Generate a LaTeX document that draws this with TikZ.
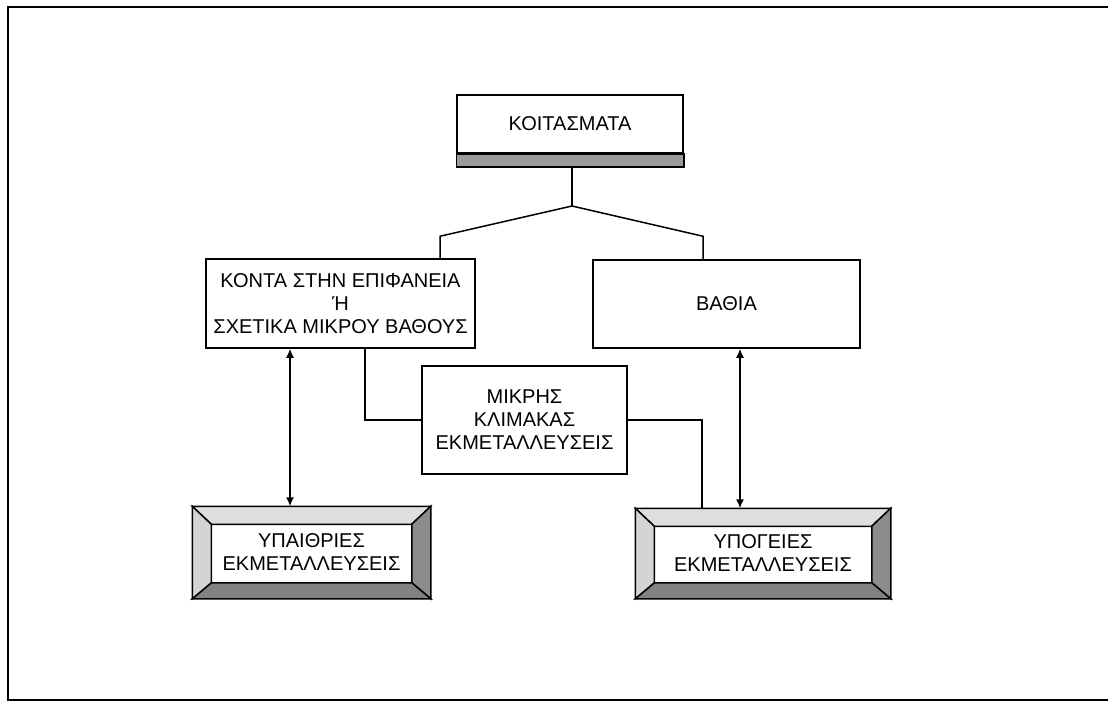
\documentclass[tikz,border=0pt]{standalone}
\usepackage{fontspec}
\setmainfont{Liberation Sans}
\usetikzlibrary{shapes,arrows.meta,calc}

\definecolor{bandgray}{HTML}{9A9A9A}
\definecolor{bevlight}{HTML}{DEDEDE}
\definecolor{bevside}{HTML}{D4D4D4}
\definecolor{bevdark}{HTML}{8C8C8C}
\definecolor{bevlow}{HTML}{828282}

\tikzset{
  box/.style={draw, line width=0.75pt, fill=white, inner sep=0pt, align=center,
    font=\fontsize{10}{11.5}\selectfont},
  link/.style={line width=0.75pt},
  both/.style={link, {Latex[length=4.5pt,width=4pt]}-{Latex[length=4.5pt,width=4pt]}},
}

% bevelled frame round a node
\newcommand{\bevelframe}[1]{%
  \coordinate (o1) at (#1.north west);
  \coordinate (o2) at (#1.north east);
  \coordinate (o3) at (#1.south east);
  \coordinate (o4) at (#1.south west);
  \coordinate (i1) at ($(o1)+(19,18)$);
  \coordinate (i2) at ($(o2)+(-19,18)$);
  \coordinate (i3) at ($(o3)+(-19,-16)$);
  \coordinate (i4) at ($(o4)+(19,-16)$);
  \filldraw[link, fill=bevlight] (o1) -- (o2) -- (i2) -- (i1) -- cycle;
  \filldraw[link, fill=bevdark] (o2) -- (o3) -- (i3) -- (i2) -- cycle;
  \filldraw[link, fill=bevlow] (o3) -- (o4) -- (i4) -- (i3) -- cycle;
  \filldraw[link, fill=bevside] (o4) -- (o1) -- (i1) -- (i4) -- cycle;
}

\begin{document}
\begin{tikzpicture}[x=0.5pt, y=-0.5pt]
\useasboundingbox (0,0) rectangle (1108,702);
\draw[line width=1pt] (1120,7) -- (8,7) -- (8,700) -- (1120,700);

% top
\node[box, minimum width=113pt, minimum height=29pt] (deposits) at (570,124) {ΚΟΙΤΑΣΜΑΤΑ};
\filldraw[link, fill=bandgray] (deposits.south west) rectangle ($(deposits.south east)+(0,13)$);
\coordinate (split) at (572,206);

% second row
\node[box, minimum width=134.5pt, minimum height=44.5pt] (near) at (340.5,303.5)
  {ΚΟΝΤΑ ΣΤΗΝ ΕΠΙΦΑΝΕΙΑ\\Ή\\ΣΧΕΤΙΚΑ ΜΙΚΡΟΥ ΒΑΘΟΥΣ};
\node[box, minimum width=133.5pt, minimum height=44pt] (deep) at (726.5,304) {ΒΑΘΙΑ};

% middle
\node[box, minimum width=102.5pt, minimum height=54pt] (small) at (524.5,420)
  {ΜΙΚΡΗΣ\\ΚΛΙΜΑΚΑΣ\\ΕΚΜΕΤΑΛΛΕΥΣΕΙΣ};

% bottom
\node[box, minimum width=118.5pt, minimum height=45.5pt] (open) at (311.5,552.5) {};
\bevelframe{open}
\node[font=\fontsize{10}{11.5}\selectfont, align=center] at (open) {ΥΠΑΙΘΡΙΕΣ\\ΕΚΜΕΤΑΛΛΕΥΣΕΙΣ};
\node[box, minimum width=127pt, minimum height=44.5pt] (under) at (763,553.5) {};
\bevelframe{under}
\node[font=\fontsize{10}{11.5}\selectfont, align=center] at (under) {ΥΠΟΓΕΙΕΣ\\ΕΚΜΕΤΑΛΛΕΥΣΕΙΣ};

% connectors
\draw[link] ($(deposits.south)+(2,13)$) -- (split);
\draw[link] (split) -- ($(near.north)+(99.5,-22)$) -- ($(near.north)+(99.5,0)$);
\draw[link] (split) -- ($(deep.north)+(-23.5,-23)$) -- ($(deep.north)+(-23.5,0)$);
\draw[both] ($(near.south)+(-50.5,0)$) -- ($(open.north)+(-21.5,0)$);
\draw[both] ($(deep.south)+(13.5,0)$) -- ($(under.north)+(-23,0)$);
\draw[link] ($(near.south)+(24.5,0)$) |- (small.west);
\draw[link] (small.east) -| ($(under.north)+(-61,0)$);
\end{tikzpicture}
\end{document}
